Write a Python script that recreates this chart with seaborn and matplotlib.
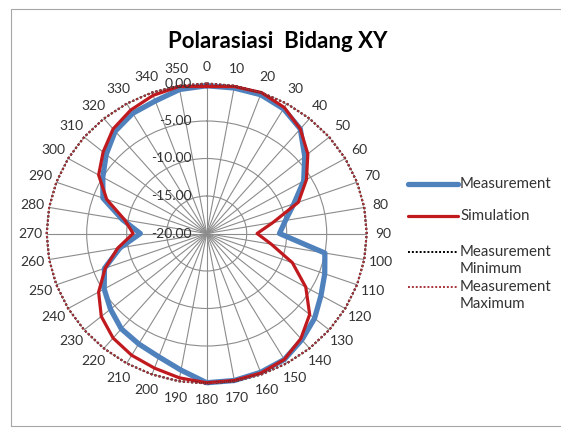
import numpy as np
import pandas as pd
import matplotlib
matplotlib.use("Agg")
import matplotlib.pyplot as plt
import matplotlib.transforms as mtransforms
from matplotlib.lines import Line2D
from matplotlib.patches import Rectangle
import seaborn as sns

# ---------------- data ----------------
angles_deg = list(range(0, 360, 10))
angle_labels = [str(a) for a in angles_deg]

measurement = [-0.3, -0.3, -0.3, -0.8, -1.8, -4.0, -6.0, -8.4, -10.0, -10.9,
               -5.0, -4.3, -3.5, -2.4, -1.5, -0.6, -0.3, -0.1, -0.1, -1.5,
               -2.5, -3.0, -3.4, -4.3, -5.2, -6.4, -9.0, -11.7, -9.3, -6.2,
               -5.0, -3.6, -2.2, -1.5, -1.2, -0.5]
simulation = [-0.4, -0.1, 0.0, -0.6, -1.8, -3.5, -5.6, -7.8, -11.6, -13.7,
              -11.8, -8.6, -5.7, -3.2, -1.7, -0.6, -0.2, -0.1, -0.1, -0.45,
              -0.9, -1.25, -1.8, -2.8, -4.4, -6.5, -8.7, -10.8, -9.6, -6.7,
              -4.4, -3.1, -1.8, -1.0, -0.4, -0.1]
meas_minimum = [0.0] * 36
meas_maximum = [0.0] * 36

r_ticks = [-20, -15, -10, -5, 0]
r_tick_labels = ["-20.00", "-15.00", "-10.00", "-5.00", "0.00"]

title = "Polarasiasi  Bidang XY"
series_names = ["Measurement", "Simulation", "Measurement\nMinimum", "Measurement\nMaximum"]

# ---------------- style ----------------
sns.set_style("white")
plt.rcParams["font.family"] = ["Lato", "DejaVu Sans"]

W, H = 561, 429
fig = plt.figure(figsize=(W / 100, H / 100), dpi=100)
fig.patch.set_facecolor("white")

cx, cy, rx, ry = 206.7, 233.5, 160.0, 150.0
ax = fig.add_axes([(cx - rx) / W, (H - cy - ry) / H, 2 * rx / W, 2 * ry / H],
                  projection="polar")
ax.set_aspect("auto")
ax.set_theta_zero_location("N")
ax.set_theta_direction(-1)
ax.set_facecolor("white")

BLUE = "#4F81BD"
RED = "#C0191E"
DOT_RED = "#A8343A"

def closed(vals):
    th = np.deg2rad(np.append(angles_deg, 360))
    v = np.append(vals, vals[0])
    return pd.DataFrame({"theta": th, "value": v})

sns.lineplot(data=closed(measurement), x="theta", y="value", ax=ax, sort=False,
             estimator=None, color=BLUE, linewidth=3.8, zorder=4)
sns.lineplot(data=closed(simulation), x="theta", y="value", ax=ax, sort=False,
             estimator=None, color=RED, linewidth=2.3, zorder=5)
sns.lineplot(data=closed(meas_minimum), x="theta", y="value", ax=ax, sort=False,
             estimator=None, color="black", linewidth=1.5, zorder=6,
             linestyle=(0, (1, 1)))
sns.lineplot(data=closed(meas_maximum), x="theta", y="value", ax=ax, sort=False,
             estimator=None, color=DOT_RED, linewidth=1.5, zorder=7,
             linestyle=(0, (1, 1)))
for ln in ax.get_lines():
    ln.set_clip_on(False)

ax.set_ylim(-20, 0)
ax.set_xlabel("")
ax.set_ylabel("")
ax.set_thetagrids(angles_deg, angle_labels)
ax.set_rgrids(r_ticks, labels=[""] * len(r_ticks))
ax.grid(True, color="#8C8C8C", linewidth=0.8)
ax.spines["polar"].set_visible(False)
ax.tick_params(axis="x", pad=1.5, labelsize=10, colors="#333333")

offset = mtransforms.ScaledTranslation(-0.15, 0, fig.dpi_scale_trans)
for rv, lab in zip(r_ticks, r_tick_labels):
    ax.text(0, rv, lab, transform=ax.transData + offset, ha="right", va="center",
            fontsize=10, color="#333333", zorder=8)

fig.text(278 / W, 1 - 41 / H, title, ha="center", va="center",
         fontsize=16, fontweight="bold", color="black")

# ---------------- legend ----------------
def fx(x):
    return x / W

def fy(y):
    return 1 - y / H

leg_items = [
    (184, BLUE, 3.8, "-"),
    (216, RED, 2.3, "-"),
    (252, "black", 1.4, (0, (1, 1))),
    (287, DOT_RED, 1.4, (0, (1, 1))),
]
for (yy, col, lw, ls), name in zip(leg_items, series_names):
    fig.add_artist(Line2D([fx(408), fx(458)], [fy(yy), fy(yy)], color=col,
                          linewidth=lw, linestyle=ls, transform=fig.transFigure))
    for k, t in enumerate(name.split("\n")):
        fig.text(fx(460), fy(yy + 17 * k), t, ha="left", va="center",
                 fontsize=10.8, color="#333333")

fig.add_artist(Rectangle((10.5 / W, 3 / H), 1.0, (426 - 8.5) / H,
                         transform=fig.transFigure, fill=False,
                         edgecolor="#A6A6A6", linewidth=0.8))

fig.savefig("out.png", dpi=100, facecolor="white")
